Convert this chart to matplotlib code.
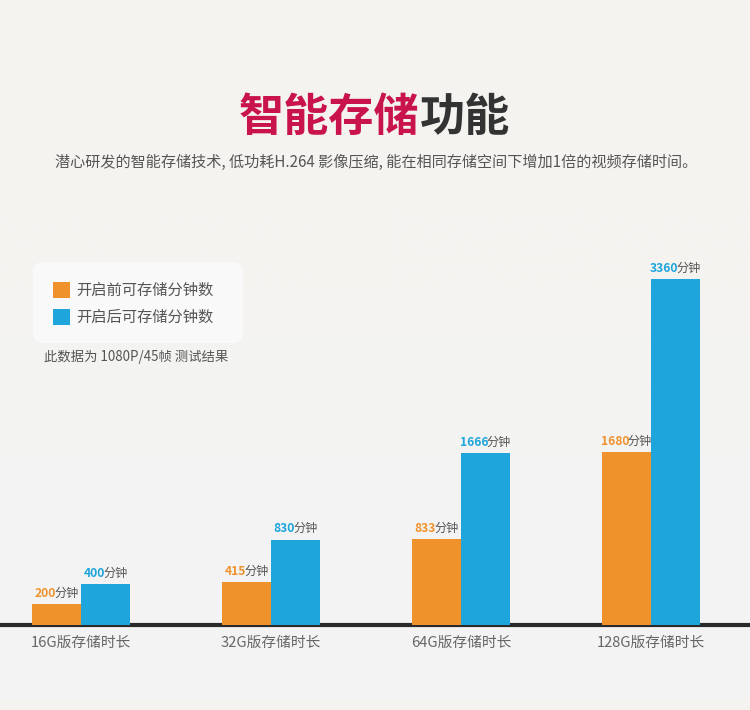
import matplotlib
matplotlib.use("Agg")
import matplotlib.pyplot as plt
from matplotlib.patches import FancyBboxPatch, Rectangle
import numpy as np

plt.rcParams['font.family'] = ['Noto Sans CJK SC', 'DejaVu Sans']

categories = ["16G版存储时长", "32G版存储时长", "64G版存储时长", "128G版存储时长"]
before_vals = [200, 415, 833, 1680]
after_vals = [400, 830, 1666, 3360]
series_names = ["开启前可存储分钟数", "开启后可存储分钟数"]

ORANGE = "#f0922c"
BLUE = "#1ea5dc"
GRAY_TXT = "#555555"

W, H = 750, 710
fig = plt.figure(figsize=(W / 100, H / 100), dpi=100, facecolor="#f5f3f0")

# soft lighter area behind the chart
bg = fig.add_axes([0, 0, 1, 1], zorder=0)
bg.set_xlim(0, W)
bg.set_ylim(H, 0)
bg.axis("off")
grad = np.linspace(0, 1, 200).reshape(-1, 1)
bg.imshow(grad, extent=(0, W, 700, 210), cmap=matplotlib.colors.LinearSegmentedColormap.from_list(
    "bgc", ["#f5f3f0", "#f3f3f3", "#f4f4f4"]), aspect="auto", zorder=0)

# title (two colours, centred as a whole)
t_red = fig.text(0.5, 1 - 118 / H, "智能存储", ha="right", va="center", fontsize=32.5,
                 fontweight="bold", color="#c8144a")
t_dark = fig.text(0.5, 1 - 118 / H, "功能", ha="left", va="center", fontsize=32.5,
                  fontweight="bold", color="#333333")
fig.text(0.502, 1 - 162 / H,
         "潜心研发的智能存储技术, 低功耗H.264 影像压缩, 能在相同存储空间下增加1倍的视频存储时间。",
         ha="center", va="center", fontsize=10.9, color=GRAY_TXT)

# chart axes: baseline at y=625px, spans full width
px_per_group = 190.0
first_center = 81.0
ax_bottom = (H - 625) / H
ax_top_px = 250
ax = fig.add_axes([0, ax_bottom, 1, (625 - ax_top_px) / H], zorder=2)
ax.patch.set_alpha(0)
x0 = -first_center / px_per_group
ax.set_xlim(x0, x0 + W / px_per_group)
ax.set_ylim(0, (625 - ax_top_px) / 0.1030)

x = np.arange(len(categories))
bw = 49 / px_per_group
ax.bar(x - bw / 2, before_vals, bw, color=ORANGE, zorder=3)
ax.bar(x + bw / 2, after_vals, bw, color=BLUE, zorder=3)

for s in ["top", "right", "left"]:
    ax.spines[s].set_visible(False)
ax.spines["bottom"].set_linewidth(3)
ax.spines["bottom"].set_color("#2a2a2a")
ax.set_yticks([])
ax.set_xticks(x)
ax.set_xticklabels(categories, fontsize=10.6, color="#666666")
ax.tick_params(axis="x", length=0, pad=8)

# value labels: bold coloured number + grey 分钟, centred over bar
pairs = []
for i in range(len(categories)):
    for xv, val, col in [(x[i] - bw / 2, before_vals[i], ORANGE), (x[i] + bw / 2, after_vals[i], BLUE)]:
        t1 = ax.annotate(str(val), (xv, val), xytext=(0, 3), textcoords="offset points",
                         ha="right", va="bottom", fontsize=8.7, fontweight="bold", color=col, zorder=4)
        t2 = ax.annotate("分钟", (xv, val), xytext=(0, 3), textcoords="offset points",
                         ha="left", va="bottom", fontsize=8.7, color=GRAY_TXT, zorder=4)
        pairs.append((t1, t2))

fig.canvas.draw()
r = fig.canvas.get_renderer()
gap = 1.5  # pull the two parts together (points)
for t1, t2 in pairs:
    w1 = t1.get_window_extent(r).width * 72 / fig.dpi
    w2 = t2.get_window_extent(r).width * 72 / fig.dpi
    shift = (w1 - w2) / 2
    t1.set_position((shift + gap / 2, 3))
    t2.set_position((shift - gap / 2, 3))

# centre the two-colour title
wr = t_red.get_window_extent(r).width
wd = t_dark.get_window_extent(r).width
xj = 0.499 + (wr - wd) / 2 / W
t_red.set_x(xj)
t_dark.set_x(xj)

# legend box
box = FancyBboxPatch((33, 262), 210, 81, boxstyle="round,pad=0,rounding_size=10",
                     transform=bg.transData, facecolor="#f9f9f9", edgecolor="none", zorder=1)
bg.add_patch(box)
for k, (name, col) in enumerate(zip(series_names, [ORANGE, BLUE])):
    yc = 290 + k * 27
    bg.add_patch(Rectangle((53, yc - 8), 17, 16, facecolor=col, edgecolor="none", zorder=2))
    bg.text(76, yc, name, ha="left", va="center", fontsize=11, color=GRAY_TXT, zorder=2)
bg.text(44, 357, "此数据为 1080P/45帧 测试结果", ha="left", va="center", fontsize=9.6, color=GRAY_TXT)

fig.savefig("out.png", dpi=100, facecolor=fig.get_facecolor())
